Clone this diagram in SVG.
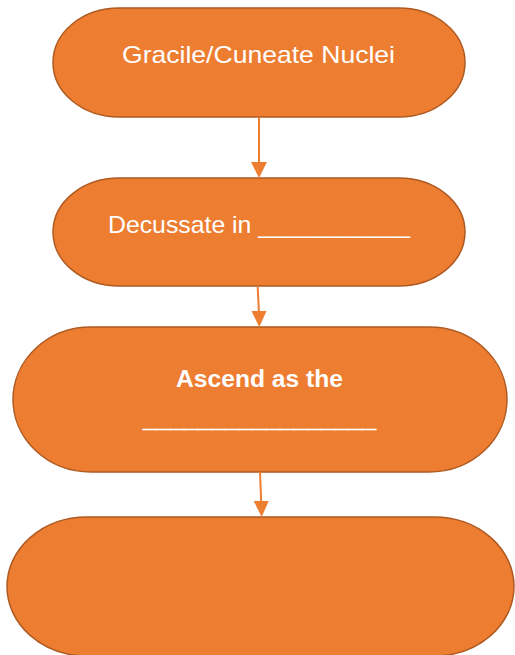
<svg xmlns="http://www.w3.org/2000/svg" width="515" height="655" viewBox="0 0 515 655">
<defs>
<style>
.node{fill:#ED7D31;stroke:#AE5A21;stroke-width:1.5}
.lbl{fill:#FFFFFF;font-family:"Liberation Sans",Arial,sans-serif;font-size:24px}
.b{font-weight:bold}
.thick{stroke:#FFFFFF;stroke-width:0.8}
.conn{stroke:#ED7D31;stroke-width:2;fill:none}
.head{fill:#ED7D31}
</style>
</defs>
<rect width="515" height="655" fill="#FFFFFF"/>
<g id="node1">
<path class="node" d="M119,8 H399 A66,54.5 0 0 1 465,62.5 A66,54.5 0 0 1 399,117 H119 A66,54.5 0 0 1 53,62.5 A66,54.5 0 0 1 119,8 Z"/>
<text class="lbl" x="258.5" y="63" text-anchor="middle" textLength="273" lengthAdjust="spacingAndGlyphs">Gracile/Cuneate Nuclei</text>
</g>
<g id="node2">
<path class="node" d="M119,178 H399 A66,54 0 0 1 465,232 A66,54 0 0 1 399,286 H119 A66,54 0 0 1 53,232 A66,54 0 0 1 119,178 Z"/>
<text class="lbl" x="108" y="233" textLength="302" lengthAdjust="spacingAndGlyphs">Decussate in ___________</text>
</g>
<g id="node3">
<path class="node" d="M91,327 H429 A78,72.5 0 0 1 507,399.5 A78,72.5 0 0 1 429,472 H91 A78,72.5 0 0 1 13,399.5 A78,72.5 0 0 1 91,327 Z"/>
<text class="lbl b" x="259.5" y="387" text-anchor="middle" textLength="167" lengthAdjust="spacingAndGlyphs">Ascend as the</text>
<text class="lbl b thick" x="143" y="427" textLength="233" lengthAdjust="spacingAndGlyphs">_________________</text>
</g>
<g id="node4">
<path class="node" d="M87,517 H434 A80,69.5 0 0 1 514,586.5 A80,69.5 0 0 1 434,656 H87 A80,69.5 0 0 1 7,586.5 A80,69.5 0 0 1 87,517 Z"/>
</g>
<g id="connectors">
<line class="conn" x1="259" y1="117" x2="259" y2="163"/>
<polygon class="head" points="251,162 267,162 259,178"/>
<line class="conn" x1="257.7" y1="287" x2="258.9" y2="312"/>
<polygon class="head" points="251.5,311 266.5,311 259.3,327"/>
<line class="conn" x1="260" y1="472" x2="261.2" y2="502"/>
<polygon class="head" points="253.7,501 268.7,501 261.7,517"/>
</g>
</svg>
